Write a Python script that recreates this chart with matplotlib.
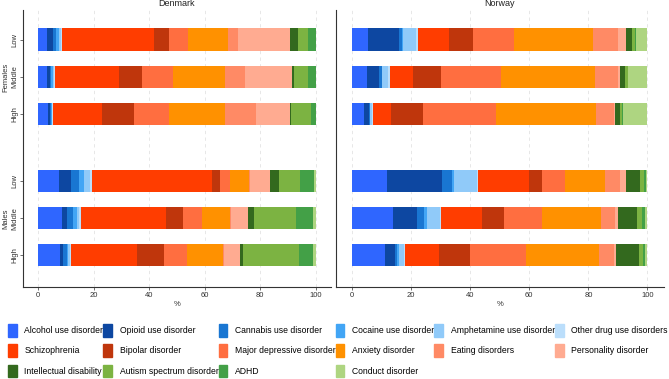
import numpy as np
import matplotlib.pyplot as plt
from matplotlib.patches import Patch

plt.rcParams['font.family'] = ['Liberation Sans', 'DejaVu Sans']

disorders = ["Alcohol use disorder", "Opioid use disorder", "Cannabis use disorder",
             "Cocaine use disorder", "Amphetamine use disorder", "Other drug use disorders",
             "Schizophrenia", "Bipolar disorder", "Major depressive disorder",
             "Anxiety disorder", "Eating disorders", "Personality disorder",
             "Intellectual disability", "Autism spectrum disorder", "ADHD", "Conduct disorder"]
colors = ["#2F66FF", "#0D47A1", "#1976D2", "#42A5F5", "#90CAF9", "#BBDEFB",
          "#FF3D00", "#BF360C", "#FF6E40", "#FF9100", "#FF8A65", "#FFAB91",
          "#33691E", "#7CB342", "#43A047", "#AED581"]

levels = ["Low", "Middle", "High", "Low", "Middle", "High"]
sexes = ["Females", "Males"]

# rows: Females Low, Middle, High, Males Low, Middle, High
denmark = [
    [3.3, 2.0, 1.2, 1.0, 0.6, 0.5, 33.1, 5.4, 6.8, 14.5, 3.4, 18.9, 2.8, 3.5, 2.9, 0.1],
    [3.3, 0.9, 0.6, 0.7, 0.3, 0.3, 23.1, 8.1, 11.1, 18.8, 7.2, 16.9, 0.8, 5.1, 2.7, 0.1],
    [3.5, 0.7, 0.4, 0.4, 0.2, 0.1, 17.9, 11.2, 12.8, 20.0, 11.1, 12.4, 0.3, 7.1, 1.8, 0.1],
    [7.5, 4.2, 3.0, 1.8, 2.1, 0.7, 43.3, 3.0, 3.5, 7.0, 0.3, 7.0, 3.2, 7.8, 4.9, 0.7],
    [8.5, 2.0, 2.1, 1.3, 0.8, 0.9, 30.5, 6.1, 6.7, 10.2, 0.2, 6.4, 2.1, 15.0, 6.2, 1.0],
    [7.9, 1.2, 1.2, 0.6, 0.5, 0.3, 23.9, 9.6, 8.5, 12.8, 0.3, 5.9, 1.2, 20.1, 5.0, 1.0],
]
norway = [
    [5.3, 10.6, 1.1, 0.4, 4.4, 0.5, 10.6, 8.2, 13.8, 26.7, 8.5, 2.5, 2.1, 1.0, 0.3, 3.9],
    [4.9, 4.3, 0.8, 0.3, 1.9, 0.6, 7.8, 9.6, 20.1, 31.9, 7.7, 0.7, 1.8, 0.9, 0.2, 6.3],
    [3.9, 1.8, 0.3, 0.2, 0.6, 0.2, 6.1, 10.9, 24.9, 33.6, 6.2, 0.3, 1.8, 0.7, 0.1, 8.4],
    [11.8, 18.7, 3.3, 0.8, 7.6, 0.5, 17.1, 4.4, 7.8, 13.7, 5.0, 2.2, 4.7, 1.2, 0.6, 0.5],
    [13.8, 8.3, 2.2, 0.9, 4.5, 0.3, 13.9, 7.4, 13.0, 19.9, 4.8, 1.1, 6.4, 1.7, 1.1, 0.7],
    [11.0, 3.6, 0.7, 0.7, 1.6, 0.3, 11.7, 10.4, 19.0, 24.7, 5.0, 0.8, 7.6, 1.3, 0.9, 0.7],
]

ypos = np.array([0, 1, 2, 3.8, 4.8, 5.8])

fig = plt.figure(figsize=(6.69, 3.79), dpi=100)
ax1 = fig.add_axes([0.034, 0.243, 0.461, 0.731])
ax2 = fig.add_axes([0.502, 0.243, 0.490, 0.731])

for ax, data, title in [(ax1, denmark, "Denmark"), (ax2, norway, "Norway")]:
    data = np.array(data)
    left = np.zeros(len(ypos))
    for j in range(len(disorders)):
        ax.barh(ypos, data[:, j], left=left, height=0.6, color=colors[j], linewidth=0, zorder=3)
        left += data[:, j]
    ax.set_xlim(-5.5, 105.5)
    ax.set_ylim(6.65, -0.8)
    ax.set_xticks([0, 20, 40, 60, 80, 100])
    ax.tick_params(axis='x', labelsize=5.5, length=2, width=0.5, pad=2, colors='#333333')
    ax.tick_params(axis='y', labelsize=5.5, length=2, width=0.5, pad=1, colors='#333333')
    ax.grid(axis='x', linestyle=(0, (4, 4)), color='#e3e3e3', linewidth=0.6, zorder=0)
    for s in ['top', 'right']:
        ax.spines[s].set_visible(False)
    for s in ['left', 'bottom']:
        ax.spines[s].set_linewidth(0.8)
        ax.spines[s].set_color('#333333')
    ax.set_xlabel("%", fontsize=5.5, labelpad=1, color='#333333')
    ax.set_title(title, fontsize=6.5, pad=3, color='#222222')

ax1.set_yticks(ypos)
ax1.set_yticklabels(levels, rotation=90, va='center')
ax2.set_yticks([])

fig.text(0.009, 1 - 77 / 379, sexes[0], rotation=90, fontsize=5.5, ha='center', va='center', color='#333333')
fig.text(0.009, 1 - 219 / 379, sexes[1], rotation=90, fontsize=5.5, ha='center', va='center', color='#333333')

# legend filled row-wise: 6 columns
handles = [Patch(color=c, label=d) for d, c in zip(disorders, colors)]
ncol = 6
order = []
for c in range(ncol):
    for r in range(3):
        k = r * ncol + c
        if k < len(handles):
            order.append(k)
fig.legend([handles[k] for k in order], [disorders[k] for k in order],
           loc='upper left', bbox_to_anchor=(0.012, 0.145), ncol=ncol, frameon=False,
           fontsize=6.2, handlelength=1.0, handleheight=1.9, handletextpad=0.9,
           columnspacing=0.0, labelspacing=0.88, borderaxespad=0, borderpad=0)

fig.savefig("out.png", dpi=100)
